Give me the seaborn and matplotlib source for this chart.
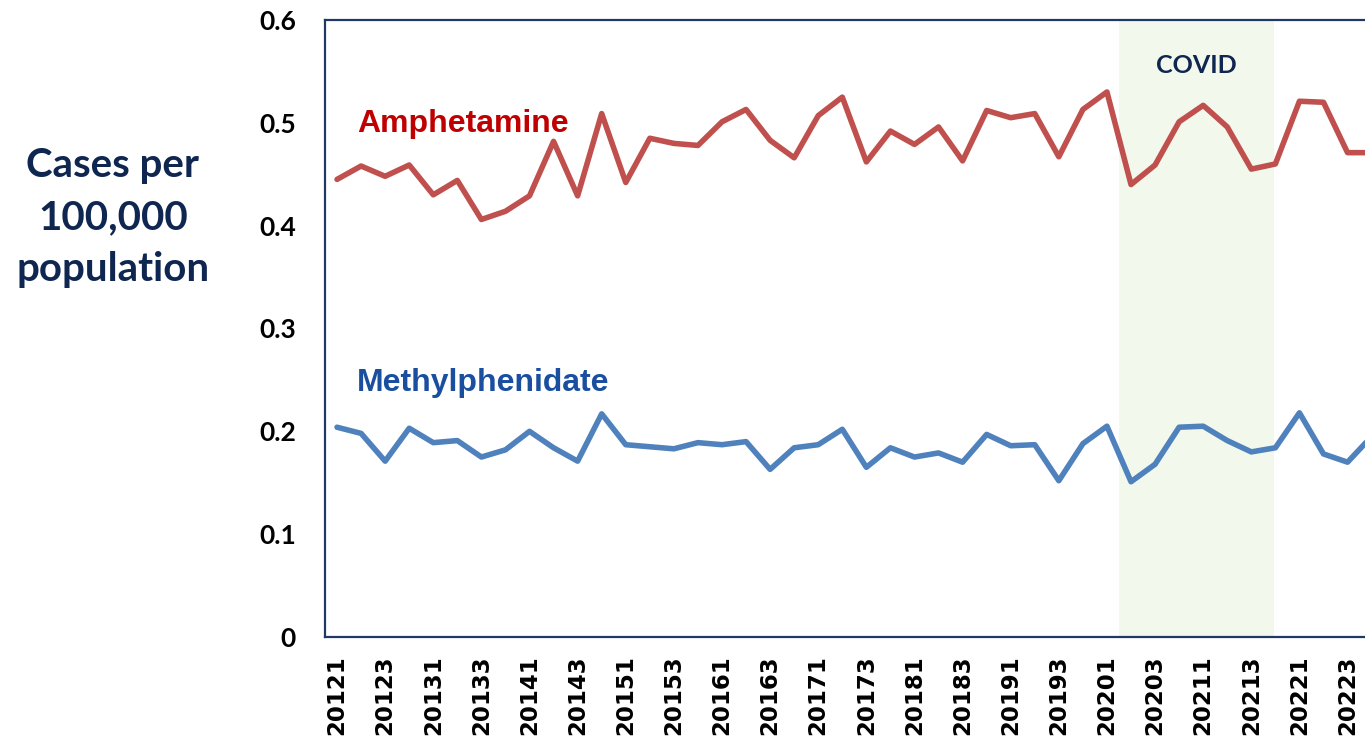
import numpy as np
import pandas as pd
import matplotlib
matplotlib.use("Agg")
import matplotlib.pyplot as plt
import seaborn as sns

quarters = [f"{y}{q}" for y in range(2012, 2023) for q in range(1, 5)]

amphetamine = [0.445, 0.458, 0.448, 0.459, 0.430, 0.444, 0.406, 0.414, 0.429, 0.482,
               0.429, 0.509, 0.442, 0.485, 0.480, 0.478, 0.501, 0.513, 0.483, 0.466,
               0.507, 0.525, 0.462, 0.492, 0.479, 0.496, 0.463, 0.512, 0.505, 0.509,
               0.467, 0.513, 0.530, 0.440, 0.459, 0.501, 0.517, 0.496, 0.455, 0.460,
               0.521, 0.520, 0.471, 0.471]

methylphenidate = [0.204, 0.198, 0.171, 0.203, 0.189, 0.191, 0.175, 0.182, 0.200, 0.184,
                   0.171, 0.217, 0.187, 0.185, 0.183, 0.189, 0.187, 0.190, 0.163, 0.184,
                   0.187, 0.202, 0.165, 0.184, 0.175, 0.179, 0.170, 0.197, 0.186, 0.187,
                   0.152, 0.188, 0.205, 0.151, 0.168, 0.204, 0.205, 0.191, 0.180, 0.184,
                   0.218, 0.178, 0.170, 0.195]

y_ticks = [0, 0.1, 0.2, 0.3, 0.4, 0.5, 0.6]
y_tick_labels = ["0", "0.1", "0.2", "0.3", "0.4", "0.5", "0.6"]

covid_start = "20202"
covid_end = "20214"

df = pd.DataFrame({"quarter": quarters,
                   "Amphetamine": amphetamine,
                   "Methylphenidate": methylphenidate})

sns.set_theme(style="white")
plt.rcParams['font.family'] = ['DejaVu Sans']

W, H = 1365, 740
fig = plt.figure(figsize=(W / 100, H / 100), dpi=100)
n = len(quarters)
unit = 24.06
left_px, top_px, bottom_px = 325, 20, 637
ax_w = (n) * unit
ax = fig.add_axes([left_px / W, 1 - bottom_px / H, ax_w / W, (bottom_px - top_px) / H])

red = "#C0504D"
blue = "#4F81BD"
navy = "#0F2650"

# COVID shading
i0 = quarters.index(covid_start) - 0.5
i1 = quarters.index(covid_end) - 0.05
ax.axvspan(i0, i1, color="#F2F8EC", zorder=0, lw=0)

sns.lineplot(data=df, x="quarter", y="Amphetamine", ax=ax, color=red, lw=4,
             solid_joinstyle="round", solid_capstyle="round", sort=False)
sns.lineplot(data=df, x="quarter", y="Methylphenidate", ax=ax, color=blue, lw=4,
             solid_joinstyle="round", solid_capstyle="round", sort=False)

ax.set_xlim(-0.5, n - 0.5)
ax.set_ylim(0, 0.6)
ax.set_xlabel("")
ax.set_ylabel("")

ax.set_xticks(range(0, n, 2))
ax.set_xticklabels(quarters[::2], rotation=90, fontsize=16.5, fontweight="bold",
                   family="DejaVu Sans", color="black", va="top")
ax.set_yticks(y_ticks)
ax.set_yticklabels(y_tick_labels, fontsize=19, fontweight="bold", family="Lato", color="black")
ax.tick_params(axis="x", length=0, pad=13)
ax.tick_params(axis="y", length=0, pad=21)

for s in ["left", "bottom", "top"]:
    ax.spines[s].set_color("#1F3864")
    ax.spines[s].set_linewidth(1.6)
ax.spines["right"].set_visible(False)

ax.text(0.83, 0.4906, "Amphetamine", color="#C00000", fontsize=23, fontweight="bold",
        family="Liberation Sans", ha="left", va="baseline")
ax.text(0.83, 0.2396, "Methylphenidate", color="#1A4FA0", fontsize=23, fontweight="bold",
        family="Liberation Sans", ha="left", va="baseline")
ax.text((i0 + i1) / 2, 0.548, "COVID", color=navy, fontsize=18, fontweight="bold",
        family="Lato", ha="center", va="baseline")

fig.text(113 / W, 1 - 218 / H, "Cases per\n100,000\npopulation", color=navy,
         fontsize=29, fontweight="bold", family="Lato", ha="center", va="center",
         linespacing=1.5)

fig.savefig("out.png", dpi=100)
